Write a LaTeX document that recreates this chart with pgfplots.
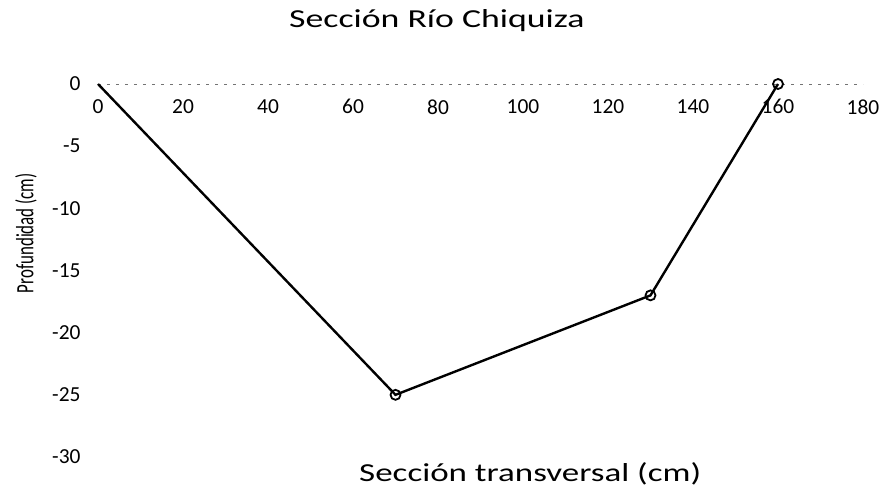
\documentclass[border=0pt]{standalone}
\usepackage{pgfplots}
\pgfplotsset{compat=1.18}
\usepackage{fontspec}
\setmainfont{Carlito}
\newfontfamily\titlefont[FakeStretch=1.38]{Carlito}
\newfontfamily\xlabfont[FakeStretch=1.35]{Carlito}
\newfontfamily\ylabfont[FakeStretch=0.68]{Carlito}
\begin{document}
\begin{tikzpicture}
\begin{axis}[
  scale only axis,
  width=765bp, height=373bp,
  xmin=0, xmax=180, ymin=-30, ymax=0,
  xtick={0,20,...,180}, ytick={-30,-25,...,0},
  axis x line*=top,
  axis y line*=left,
  y axis line style={draw=none},
  x axis line style={draw=black!55, line width=0.8bp, dash pattern=on 3bp off 6bp},
  major tick length=0pt,
  xticklabel style={anchor=north, yshift=-12bp, font=\fontsize{21.5}{24}\selectfont},
  yticklabel style={xshift=-14bp, font=\fontsize{21.5}{24}\selectfont},
  /pgf/number format/assume math mode=true,
  clip=false,
  title={Sección Río Chiquiza},
  title style={font=\titlefont\fontsize{26}{30}\selectfont, at={(axis description cs:0.443,1)}, anchor=center, yshift=57bp},
  xlabel={Sección transversal (cm)},
  xlabel style={font=\xlabfont\fontsize{26}{30}\selectfont, at={(axis description cs:0.565,0)}, anchor=center, yshift=-17bp},
  ylabel={Profundidad (cm)},
  ylabel style={font=\ylabfont\fontsize{25}{29}\selectfont, at={(axis description cs:-0.094,0.6)}, anchor=center},
]
\addplot[black, line width=2.4bp, mark=o, mark indices={2,3,4},
  mark options={solid, line width=1.8bp}, mark size=5bp]
  coordinates {(0,0) (70,-25) (130,-17) (160,0)};
\end{axis}
\pgfresetboundingbox
\path (current axis.south west) ++(-98bp,-33bp) coordinate (bl);
\path (current axis.north east) ++(20bp,84bp) coordinate (tr);
\path[use as bounding box] (bl) rectangle (tr);
\end{tikzpicture}
\end{document}
